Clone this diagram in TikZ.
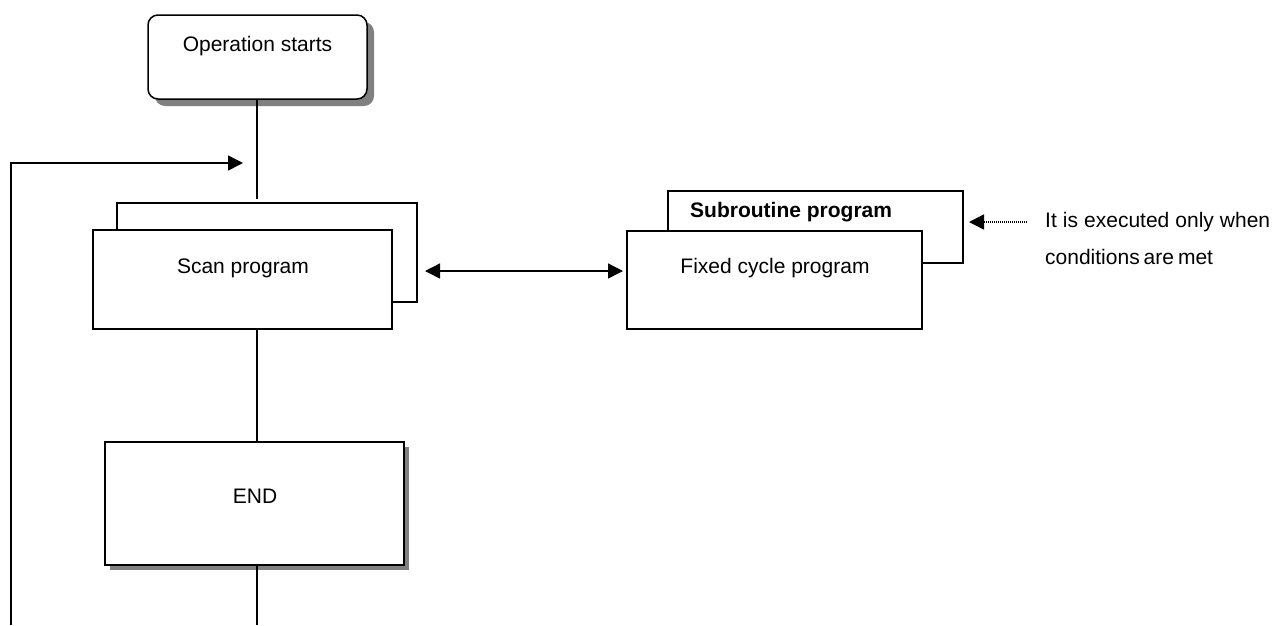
\documentclass[tikz,border=0pt]{standalone}
\usepackage{fontspec}
\setmainfont{Liberation Sans}
\usetikzlibrary{arrows.meta}
\tikzset{
  ln/.style={line width=1.5pt},
  arr/.style={ln,-{Triangle[length=15pt,width=15pt]}},
  darr/.style={ln,{Triangle[length=15pt,width=15pt]}-{Triangle[length=15pt,width=15pt]}},
  boxshape/.style={draw,line width=1.5pt,fill=white,inner sep=0pt},
  shadowfill/.style={fill=black!50,draw=none},
  txt/.style={font=\fontsize{21}{25}\selectfont,inner sep=0pt},
}
\begin{document}
\begin{tikzpicture}[x=1pt,y=-1pt]
\useasboundingbox (0,0) rectangle (1274,625);
% Operation starts
\fill[shadowfill,rounded corners=10pt] (155,22) rectangle (374,106);
\node[boxshape,rounded corners=10pt,minimum width=219pt,minimum height=84pt] (start) at (257.5,57) {};
\node[txt] (starttxt) at (257.5,46) {Operation starts};
% Scan program
\node[boxshape,minimum width=300pt,minimum height=99pt] (scanback) at (267,252.5) {};
\node[boxshape,minimum width=299pt,minimum height=99pt] (scan) at (242.5,279.5) {};
\node[txt] (scantxt) at (243,268) {Scan program};
% END
\fill[shadowfill] (110,447) rectangle (409,570);
\node[boxshape,minimum width=299pt,minimum height=123pt] (end) at (254.5,503.5) {};
\node[txt] (endtxt) at (255,496) {END};
% Subroutine / Fixed cycle
\node[boxshape,minimum width=295pt,minimum height=72pt] (subback) at (815.5,227) {};
\node[txt,font=\fontsize{21}{25}\selectfont\bfseries,anchor=west] (subtxt) at (690,212) {Subroutine program};
\node[boxshape,minimum width=295pt,minimum height=98pt] (fixed) at (774.5,280) {};
\node[txt] (fixedtxt) at (775,268) {Fixed cycle program};
% note text
\node[txt,anchor=west] (note1) at (1045,222) {\makebox[225pt][s]{It is executed only when}};
\node[txt,anchor=west] (note2) at (1045,257) {\spaceskip=4pt conditions are met};
% coordinates
\coordinate (topline) at (257,199);
\coordinate (loopbot) at (11,625);
\coordinate (looptop) at (11,163);
\coordinate (looptip) at (243,163);
\coordinate (endbot) at (257,625);
\coordinate (dl) at (425,271);
\coordinate (dr) at (623,271);
\coordinate (notestart) at (1027,222);
\coordinate (notetip) at (969,222);
% connectors
\draw[ln] (start.south -| topline) -- (topline);
\draw[ln] (topline |- scan.south) -- (topline |- end.north);
\draw[ln] (topline |- end.south) -- (endbot);
\draw[arr] (loopbot) -- (looptop) -- (looptip);
\draw[darr] (dl) -- (dr);
\draw[line width=1.5pt,dash pattern=on 1pt off 1pt] (notestart) -- ([xshift=12pt]notetip);
\draw[arr] ([xshift=13pt]notetip) -- (notetip);
\end{tikzpicture}
\end{document}
